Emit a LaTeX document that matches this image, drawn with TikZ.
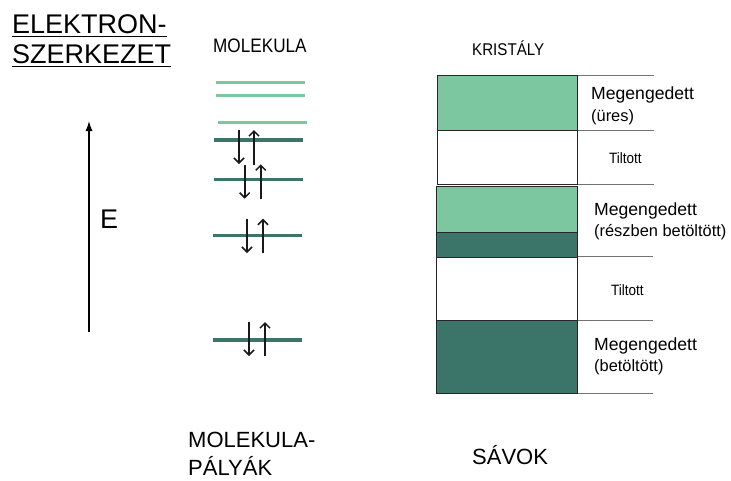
\documentclass[tikz,border=0pt]{standalone}
\usepackage{graphicx}
\usepackage{fontspec}
\setmainfont{Liberation Sans}
\usetikzlibrary{arrows.meta}
\definecolor{bandlight}{RGB}{124,198,160}
\definecolor{banddark}{RGB}{59,116,104}

\begin{document}
\begin{tikzpicture}[x=1pt,y=-1pt,
  lbl/.style={inner sep=0pt, anchor=base west},
  bigtxt/.style={lbl, font=\fontsize{27}{30}\selectfont},
  captxt/.style={lbl, font=\fontsize{22}{24}\selectfont},
  bandtxt/.style={lbl, font=\fontsize{16.4}{18}\selectfont},
  bandhead/.style={lbl, font=\fontsize{17.6}{20}\selectfont},
  gaptxt/.style={lbl, font=\fontsize{15}{18}\selectfont},
  lvlhi/.style={bandlight, line width=3.5pt},
  lvllo/.style={banddark, line width=3.5pt},
  spin/.style={line width=1.8pt, black!90, -{Straight Barb[length=5pt,width=10pt,line width=1.5pt]}},
  band/.style={draw=black!85, line width=0.8pt},
  edgeline/.style={draw=black!55, line width=0.8pt}
]
\useasboundingbox (0,0) rectangle (731,480);

% heading
\node[bigtxt] (h1) at (12,33) {ELEKTRON-};
\node[bigtxt] (h2) at (12,63) {SZERKEZET};
\draw[line width=1.4pt] ([yshift=-3.5pt]h1.base west) -- ([yshift=-3.5pt]h1.base east);
\draw[line width=1.4pt] ([yshift=-3.5pt]h2.base west) -- ([yshift=-3.5pt]h2.base east);

% energy axis
\coordinate (eb) at (89,332);
\coordinate (et) at (89,121);
\draw[line width=1.3pt, -{Latex[length=10pt,width=7pt]}] (eb) -- (et);
\node[bigtxt] (elab) at (100,228) {E};

% molecular orbitals
\node[lbl, font=\fontsize{19.5}{22}\selectfont] (mol) at (213,52) {\scalebox{0.88}[1]{MOLEKULA}};
\draw[lvlhi] (216,82.7) -- (305,82.7);
\draw[lvlhi] (216,95.7) -- (305,95.7);
\draw[lvlhi] (218,122.7) -- (307,122.7);
\draw[lvllo] (214,140) -- (303,140);
\draw[lvllo] (214,179.7) -- (303,179.7);
\draw[lvllo] (213,235.7) -- (302,235.7);
\draw[lvllo] (213,340) -- (302,340);

% electron pairs
\draw[spin] (239,130) -- (239,164);
\draw[spin] (254,164.7) -- (254,130);
\draw[spin] (244.7,165) -- (244.7,198.7);
\draw[spin] (260.7,198.7) -- (260.7,164.3);
\draw[spin] (247,219) -- (247,253);
\draw[spin] (263,252.7) -- (263,218.7);
\draw[spin] (249,322) -- (249,356);
\draw[spin] (265,356) -- (265,322);

% crystal bands
\node[lbl, font=\fontsize{17}{20}\selectfont] (kri) at (472,55) {\scalebox{0.89}[1]{KRISTÁLY}};
\draw[edgeline] (577.5,75.5) -- (654,75.5);
\draw[edgeline] (577.5,130) -- (654,130);
\draw[edgeline] (577.5,184.7) -- (654,184.7);
\draw[edgeline] (577.5,256.5) -- (653,256.5);
\draw[edgeline] (577,320) -- (653,320);
\draw[edgeline] (577,393.7) -- (653,393.7);
\draw[band, fill=bandlight] (437,75.5) rectangle (577.5,130);
\draw[band, fill=white] (437,130) rectangle (577.5,184.7);
\draw[band, fill=bandlight] (436.5,186) rectangle (577,232.3);
\draw[band, fill=banddark] (436.5,232.3) rectangle (577.5,257);
\draw[band, fill=white] (436.5,257) rectangle (577,320);
\draw[band, fill=banddark] (436.5,320) rectangle (577,393.7);

\node[bandhead] (b1) at (591,99.5) {Megengedett};
\node[bandtxt] (b1s) at (591,121.7) {(üres)};
\node[gaptxt] (g1) at (609,163) {\scalebox{0.9}[1]{Tiltott}};
\node[bandhead] (b2) at (594,215.7) {Megengedett};
\node[bandtxt] (b2s) at (594,236.7) {(részben betöltött)};
\node[gaptxt] (g2) at (611,295) {\scalebox{0.9}[1]{Tiltott}};
\node[bandhead] (b3) at (594,350) {Megengedett};
\node[bandtxt] (b3s) at (594,371.7) {(betöltött)};

% captions
\node[captxt] (c1) at (188,447.7) {MOLEKULA-};
\node[captxt] (c2) at (188,475) {PÁLYÁK};
\node[captxt] (c3) at (472,464.3) {SÁVOK};
\end{tikzpicture}
\end{document}
